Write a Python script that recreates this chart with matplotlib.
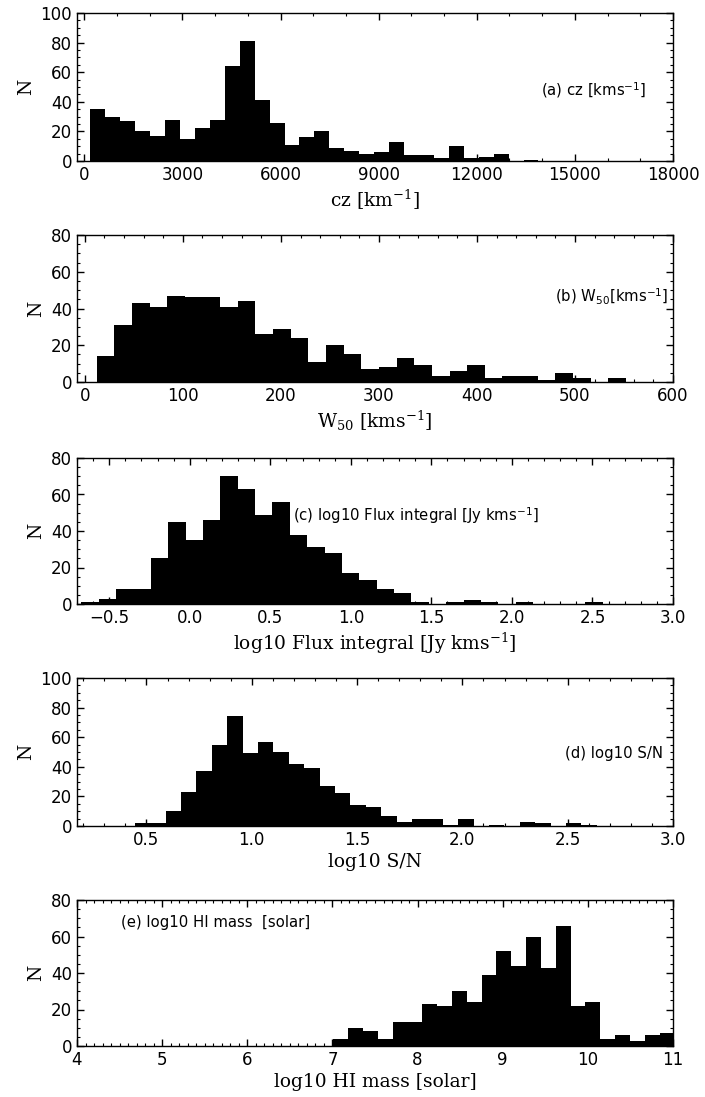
import numpy as np
import matplotlib
matplotlib.use("Agg")
import matplotlib.pyplot as plt
from matplotlib.ticker import MultipleLocator

plt.rcParams['mathtext.fontset'] = 'dejavuserif'

# ---------------- data ----------------
cz_counts = [35, 30, 27, 20, 17, 28, 15, 22, 28, 64, 81, 41, 26, 11, 16, 20, 9, 7, 5, 6,
             13, 4, 4, 2, 10, 2, 3, 5, 0, 1]
cz_range = (184, 13885)

w50_counts = [14, 31, 43, 41, 47, 46, 46, 41, 44, 26, 29, 24, 11, 20, 15, 7, 8, 13, 9, 3,
              6, 9, 2, 3, 3, 1, 5, 2, 0, 2]
w50_range = (12, 552)

flux_counts = [1, 3, 8, 8, 25, 45, 35, 46, 70, 63, 49, 56, 38, 31, 28, 17, 13, 8, 6, 1,
               0, 1, 2, 1, 0, 1, 0, 0, 0, 1]
flux_range = (-0.673, 2.563)

sn_counts = [2, 2, 10, 23, 37, 55, 74, 49, 57, 50, 42, 39, 27, 22, 14, 13, 7, 3, 5, 5,
             1, 5, 0, 1, 0, 3, 2, 0, 2, 1]
sn_range = (0.445, 2.638)

mass_counts = [4, 10, 8, 4, 13, 13, 23, 22, 30, 24, 39, 52, 44, 60, 43, 66, 22, 24, 4, 6,
               3, 6, 7, 8]
mass_range = (7.01, 11.191)

xlabels = [r'cz [km$^{-1}$]', r'W$_{50}$ [kms$^{-1}$]', r'log10 Flux integral [Jy kms$^{-1}$]',
           'log10 S/N', 'log10 HI mass [solar]']
annotations = [r'(a) cz [kms$^{\mathsf{-1}}$]', r'(b) W$_{\mathsf{50}}$[kms$^{\mathsf{-1}}$]',
               r'(c) log10 Flux integral [Jy kms$^{\mathsf{-1}}$]', '(d) log10 S/N',
               '(e) log10 HI mass  [solar]']

# ---------------- layout ----------------
W, H = 705, 1097
fig = plt.figure(figsize=(W / 100, H / 100), dpi=100)

panels = [
    dict(counts=cz_counts, rng=cz_range, xlim=(-226, 18000), ylim=(0, 100),
         major=3000, minor=1000, ymajor=20, top=13, bottom=161, ann=(0.778, 0.48)),
    dict(counts=w50_counts, rng=w50_range, xlim=(-8, 600), ylim=(0, 80),
         major=100, minor=20, ymajor=20, top=235, bottom=382, ann=(0.802, 0.585)),
    dict(counts=flux_counts, rng=flux_range, xlim=(-0.70, 3.0), ylim=(0, 80),
         major=0.5, minor=0.1, ymajor=20, top=458, bottom=604, ann=(0.363, 0.603)),
    dict(counts=sn_counts, rng=sn_range, xlim=(0.17, 3.0), ylim=(0, 100),
         major=0.5, minor=0.1, ymajor=20, top=678, bottom=826, ann=(0.818, 0.487)),
    dict(counts=mass_counts, rng=mass_range, xlim=(4, 11), ylim=(0, 80),
         major=1, minor=0.1, ymajor=20, top=900, bottom=1046, ann=(0.073, 0.849)),
]

left_px, right_px = 77, 673
for i, p in enumerate(panels):
    ax = fig.add_axes([left_px / W, 1 - p['bottom'] / H, (right_px - left_px) / W,
                       (p['bottom'] - p['top']) / H])
    counts = np.array(p['counts'], dtype=float)
    edges = np.linspace(p['rng'][0], p['rng'][1], len(counts) + 1)
    ax.stairs(counts, edges, fill=True, color='black', linewidth=0)
    ax.set_xlim(*p['xlim'])
    ax.set_ylim(*p['ylim'])
    ax.xaxis.set_major_locator(MultipleLocator(p['major']))
    ax.xaxis.set_minor_locator(MultipleLocator(p['minor']))
    ax.yaxis.set_major_locator(MultipleLocator(p['ymajor']))
    ax.yaxis.set_minor_locator(MultipleLocator(5))
    ax.tick_params(which='both', direction='in', top=True, right=True, labelsize=12)
    ax.tick_params(which='major', length=5, width=1)
    ax.tick_params(which='minor', length=2.5, width=0.8)
    for s in ax.spines.values():
        s.set_linewidth(1)
    ax.set_xlabel(xlabels[i], fontsize=13.4, family='DejaVu Serif', labelpad=3)
    ax.set_ylabel('N', fontsize=13.4, family='DejaVu Serif', labelpad=4)
    ax.text(p['ann'][0], p['ann'][1], annotations[i], transform=ax.transAxes,
            ha='left', va='center', fontsize=10.7)

fig.savefig('out.png', dpi=100)
